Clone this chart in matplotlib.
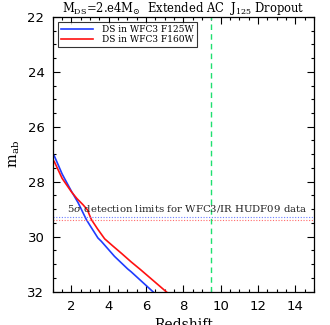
"""Detection magnitude vs redshift for an extended dark-star (J125 dropout)."""
import matplotlib
matplotlib.use("Agg")
import matplotlib.pyplot as plt
from matplotlib.ticker import MultipleLocator

plt.rcParams.update({
    "font.family": "DejaVu Serif",
    "mathtext.fontset": "dejavuserif",
    "axes.linewidth": 0.9,
})

# curves
z_f125 = [0.9, 1.08, 1.5, 2.0, 2.36, 2.8, 3.0, 3.42, 3.6, 4.31, 5.02, 5.2, 6.36, 7.0]
m_f125 = [26.9, 27.06, 27.72, 28.35, 28.77, 29.38, 29.6, 30.05, 30.17, 30.72, 31.18, 31.28, 32.0, 32.4]

z_f160 = [0.9, 1.08, 1.5, 2.0, 2.3, 2.62, 2.85, 3.07, 3.4, 3.78, 4.2, 4.7, 5.2, 5.7, 7.07, 7.5]
m_f160 = [27.12, 27.27, 27.88, 28.37, 28.62, 28.84, 29.02, 29.38, 29.72, 30.08, 30.33, 30.62, 30.92, 31.2, 32.0, 32.25]

limit_f125 = 29.30
limit_f160 = 29.40
z_cut = 9.5

fig = plt.figure(figsize=(3.3, 3.25), dpi=100)
ax = fig.add_axes([0.16, 0.103, 0.791, 0.845])

ax.plot(z_f125, m_f125, color="#1f3cff", lw=1.2, label="DS in WFC3 F125W")
ax.plot(z_f160, m_f160, color="#ff1010", lw=1.2, label="DS in WFC3 F160W")
ax.axhline(limit_f125, color="#6a7dff", lw=0.8, ls=(0, (1, 1.5)))
ax.axhline(limit_f160, color="#ff6a6a", lw=0.8, ls=(0, (1, 1.5)))
ax.axvline(z_cut, color="#1fe070", lw=1.0, ls=(0, (4, 3)))

ax.text(1.76, 29.08, r"5$\sigma$ detection limits for WFC3/IR HUDF09 data",
        fontsize=7.3, color="#222")

ax.set_xlim(1, 15)
ax.set_ylim(32, 22)
ax.xaxis.set_major_locator(MultipleLocator(2))
ax.xaxis.set_minor_locator(MultipleLocator(0.5))
ax.yaxis.set_major_locator(MultipleLocator(2))
ax.yaxis.set_minor_locator(MultipleLocator(0.5))
ax.tick_params(which="both", direction="in", top=True, right=True, width=0.8)
ax.tick_params(which="major", length=5, labelsize=9.5, pad=6)
ax.tick_params(which="minor", length=2.5)
for lab in ax.get_xticklabels() + ax.get_yticklabels():
    lab.set_family("DejaVu Sans")

ax.set_xlabel("Redshift", fontsize=10, labelpad=4)
ax.set_ylabel(r"m$_{\rm ab}$", fontsize=10.5, labelpad=4)
ax.set_title(r"M$_{\rm DS}$=2.e4M$_{\odot}$  Extended AC  J$_{125}$ Dropout",
             fontsize=8.3, pad=3)

leg = ax.legend(loc="upper left", fontsize=6.5, frameon=True, fancybox=False,
                edgecolor="black", handlelength=3.6, borderpad=0.3,
                labelspacing=0.1, borderaxespad=0.6, handletextpad=1.0)
leg.get_frame().set_linewidth(0.8)

fig.savefig("out.png", dpi=100, facecolor="white")
